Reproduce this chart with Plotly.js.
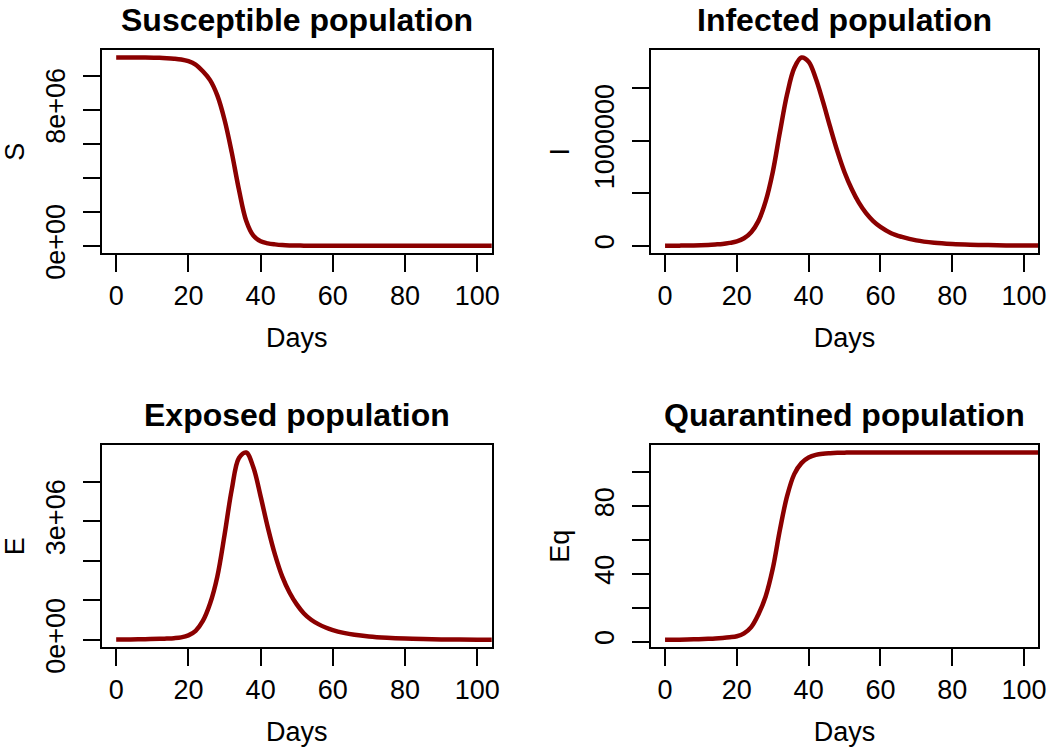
<!DOCTYPE html>
<html>
<head>
<meta charset="utf-8" />
<title>SEIR populations</title>
<script src="https://cdn.plot.ly/plotly-3.0.1.min.js"></script>
<style>
  html, body { margin: 0; padding: 0; background: #fff; }
  #plot { width: 1050px; height: 748px; }
</style>
</head>
<body>
<div id="plot"></div>
<script>
// time axis (days) shared by every panel
const days = [0, 4, 8, 12, 14, 16, 18, 20, 22, 24, 26, 28, 30, 32, 34, 36, 38, 40, 42, 44,
              46, 48, 50, 52, 54, 56, 58, 60, 63, 66, 70, 75, 80, 85, 90, 95, 100, 105, 110];

// values
const susceptible = [11.08e6, 11.08e6, 11.075e6, 11.06e6, 11.04e6, 11.01e6, 10.96e6, 10.86e6, 10.66e6, 10.27e6,
                     9.75e6, 8.85e6, 7.42e6, 5.5e6, 3.3e6, 1.48e6, 0.6e6, 0.27e6, 0.15e6, 0.09e6,
                     0.05e6, 0.03e6, 0.02e6, 0.016e6, 0.014e6, 0.013e6, 0.012e6, 0.012e6, 0.011e6, 0.011e6,
                     0.011e6, 0.01e6, 0.01e6, 0.01e6, 0.01e6, 0.01e6, 0.01e6, 0.01e6, 0.01e6];
const infected = [1000, 2000, 4000, 9000, 13000, 18000, 28000, 42000, 72000, 130000,
                  235000, 420000, 700000, 1080000, 1440000, 1690000, 1790000, 1750000, 1590000, 1370000,
                  1130000, 900000, 700000, 540000, 410000, 310000, 235000, 180000, 120000, 85000,
                  52000, 30000, 18000, 11000, 7000, 4500, 3000, 2000, 1300];
const exposed = [10000, 12000, 18000, 28000, 35000, 45000, 65000, 115000, 230000, 480000,
                 920000, 1600000, 2650000, 3800000, 4600000, 4740000, 4360000, 3630000, 2840000, 2150000,
                 1600000, 1200000, 900000, 670000, 510000, 400000, 315000, 250000, 180000, 130000,
                 88000, 55000, 34000, 22000, 14000, 9000, 6000, 4000, 3000];
const quarantined = [1.0, 1.1, 1.3, 1.6, 1.8, 2.1, 2.5, 3.1, 4.8, 8.5,
                     16, 26.5, 43, 66, 86, 99, 105.5, 108.8, 110.4, 111.1,
                     111.4, 111.6, 111.7, 111.8, 111.8, 111.8, 111.8, 111.8, 111.8, 111.8,
                     111.8, 111.8, 111.8, 111.8, 111.8, 111.8, 111.8, 111.8, 111.8];

// tick marks and the labels R kept on each y axis
const dayTicks = [0, 20, 40, 60, 80, 100];
const sTicks = [0, 2e6, 4e6, 6e6, 8e6, 1e7];
const sLabels = ['0e+00', '', '', '', '8e+06', ''];
const iTicks = [0, 500000, 1000000, 1500000];
const iLabels = ['0', '', '1000000', ''];
const eTicks = [0, 1e6, 2e6, 3e6, 4e6];
const eLabels = ['0e+00', '', '', '3e+06', ''];
const qTicks = [0, 20, 40, 60, 80, 100];
const qLabels = ['0', '', '40', '', '80', ''];

const titles = ['Susceptible population', 'Infected population', 'Exposed population', 'Quarantined population'];
const yNames = ['S', 'I', 'E', 'Eq'];

const FONT = 'Liberation Sans, Arial, Helvetica, sans-serif';
const RED = '#8B0000';

// R pads each axis by 4% of the data range
function rRange(v) {
  const lo = Math.min(...v), hi = Math.max(...v), p = (hi - lo) * 0.04;
  return [lo - p, hi + p];
}

const series = [susceptible, infected, exposed, quarantined];
const yTicks = [[sTicks, sLabels], [iTicks, iLabels], [eTicks, eLabels], [qTicks, qLabels]];

const xDomains = [[0.0969, 0.4683], [0.6197, 0.9889], [0.0969, 0.4683], [0.6197, 0.9889]];
const yDomains = [[0.6614, 0.9332], [0.6614, 0.9332], [0.1346, 0.4051], [0.1346, 0.4051]];

const data = [];
const layout = {
  width: 1050,
  height: 748,
  margin: {l: 0, r: 0, t: 0, b: 0},
  paper_bgcolor: '#fff',
  plot_bgcolor: '#fff',
  showlegend: false,
  font: {family: FONT, size: 27, color: '#000'},
  annotations: []
};

series.forEach(function (vals, k) {
  const n = k === 0 ? '' : String(k + 1);
  data.push({
    x: days,
    y: vals,
    xaxis: 'x' + n,
    yaxis: 'y' + n,
    type: 'scatter',
    mode: 'lines',
    line: {color: RED, width: 4.5, shape: 'spline', smoothing: 1},
    hoverinfo: 'skip'
  });

  const common = {
    showline: true, mirror: true, linecolor: '#000', linewidth: 2,
    ticks: 'outside', ticklen: 17, tickwidth: 2, tickcolor: '#000',
    showgrid: false, zeroline: false, fixedrange: true,
    tickfont: {family: FONT, size: 27, color: '#000'}
  };
  layout['xaxis' + n] = Object.assign({}, common, {
    domain: xDomains[k],
    anchor: 'y' + n,
    range: [-4, 104],
    tickmode: 'array',
    tickvals: dayTicks,
    ticktext: dayTicks.map(String),
    title: {text: 'Days', font: {family: FONT, size: 27}, standoff: 18}
  });
  layout['yaxis' + n] = Object.assign({}, common, {
    domain: yDomains[k],
    anchor: 'x' + n,
    range: rRange(vals),
    tickmode: 'array',
    tickvals: yTicks[k][0],
    ticktext: yTicks[k][1],
    tickangle: -90,
    ticklabelstandoff: 7,
    title: {text: yNames[k], font: {family: FONT, size: 27}, standoff: 12}
  });

  // panel title, its box kept just inside the top of the page
  layout.annotations.push({
    text: '<b>' + titles[k] + '</b>',
    xref: 'paper', yref: 'paper',
    x: (xDomains[k][0] + xDomains[k][1]) / 2,
    y: yDomains[k][1],
    xanchor: 'center', yanchor: 'top',
    yshift: 50,
    showarrow: false,
    font: {family: FONT, size: 32, color: '#000'}
  });
});

Plotly.newPlot('plot', data, layout, {staticPlot: true});
</script>
</body>
</html>
